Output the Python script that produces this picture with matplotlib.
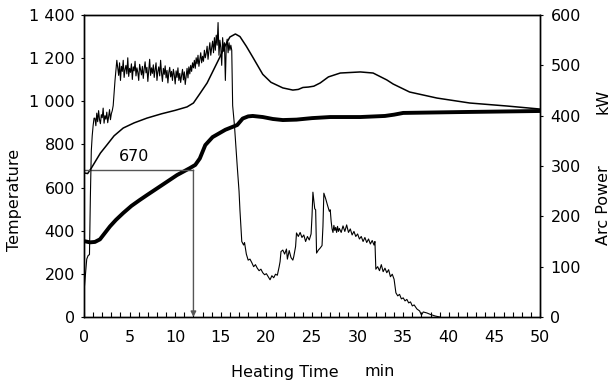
import numpy as np
import matplotlib.pyplot as plt
from matplotlib.ticker import MultipleLocator, FuncFormatter

plt.rcParams['font.family'] = ['DejaVu Sans']
plt.rcParams['font.size'] = 11.5

# thin temperature curve
thin_t = [0, 0.4, 0.8, 1.2, 1.8, 2.5, 3.3, 4.3, 5.5, 6.9, 8.5, 10, 11.3, 12, 12.7,
          13.5, 14.2, 14.9, 15.5, 16, 16.6, 17.1, 17.8, 18.5, 19.6, 20.5, 21.8,
          22.9, 23.5, 24.0, 24.6, 25.2, 25.9, 26.8, 28.1, 30.3, 31.7, 33.2, 33.9,
          35.7, 38.7, 42.3, 46.4, 50]
thin_temp = [668, 665, 690, 718, 760, 797, 840, 876, 900, 922, 942, 958, 974, 992, 1035,
             1085, 1145, 1205, 1260, 1298, 1312, 1300, 1255, 1205, 1125, 1088, 1062,
             1052, 1055, 1064, 1066, 1070, 1085, 1113, 1131, 1136, 1131, 1099, 1080,
             1043, 1015, 992, 978, 964]

# thick temperature curve
thick_t = [0, 0.66, 1.2, 1.75, 2.3, 2.85, 3.5, 4.3, 5.2, 6.1, 6.9, 8.5, 10.2, 11.6,
           12.2, 12.7, 13.3, 14.1, 15.5, 16.8, 17.4, 18.0, 18.5, 19.6, 20.7, 21.8,
           23.3, 25, 27, 30.3, 33.0, 34.0, 35.0, 41.2, 50]
thick_temp = [352, 346, 348, 360, 390, 420, 450, 482, 515, 542, 565, 610, 658, 690,
              705, 735, 797, 834, 868, 890, 920, 930, 932, 927, 918, 913,
              915, 922, 927, 927, 932, 938, 946, 950, 955]

# arc power (kW), start-up
pw_start_t = [0, 0.3, 0.45, 0.6, 0.7, 0.8, 0.9, 1.0, 1.1]
pw_start = [50, 115, 122, 124, 240, 330, 360, 380, 395]

# arc power, noisy section sampled every 0.1 min from 1.2 to 16.1
pw_noisy = [
    395, 380, 405, 388, 410, 392, 384, 402, 396, 415, 385, 400, 393, 407, 386, 398, 412, 392, 404,
    410, 420, 445, 470, 490, 510,
    495, 480, 505, 470, 498, 488, 510, 476, 492, 500,
    483, 515, 478, 494, 486, 503, 472, 497, 489, 508,
    479, 495, 486, 470, 502, 491, 481, 498, 474, 493,
    507, 485, 496, 468, 489, 512, 480, 495, 484, 501,
    476, 492, 505, 470, 488, 497, 479, 510, 485, 468,
    494, 482, 499, 475, 490, 465, 486, 496, 477, 488,
    470, 492, 481, 463, 489, 476, 495, 470, 484, 466,
    480, 492, 471, 487, 462, 478, 494, 475, 497, 483,
    500, 488, 505, 495,
    510, 494, 515, 503, 520, 498, 512, 525, 505, 518,
    508, 530, 515, 524, 538, 512, 530, 545, 520, 535,
    548, 525, 555, 530, 560, 540, 585, 520, 550, 535,
    500, 555, 528, 545, 470, 540, 552, 525, 545, 530,
    540]
pw_noisy_t = np.round(np.arange(len(pw_noisy)) * 0.1 + 1.2, 2)

# arc power, tail after the drop
pw_tail_t = [16.2, 16.3, 16.5, 16.8, 17.0, 17.1, 17.2, 17.3, 17.5, 17.6, 17.8, 18.0, 18.2,
             18.4, 18.6, 18.8, 19.0, 19.2, 19.4, 19.6, 19.8, 20.0, 20.2, 20.4, 20.6, 20.8,
             21.0, 21.2, 21.4, 21.5, 21.6, 21.8, 22.0, 22.2, 22.3, 22.5, 22.7, 22.9, 23.0,
             23.2, 23.3, 23.5, 23.7, 23.9, 24.1, 24.3, 24.5, 24.7, 24.9, 25.0, 25.1, 25.3,
             25.4, 25.5, 25.7, 25.9, 26.1, 26.2, 26.3, 26.5, 26.7, 26.9, 27.0, 27.1, 27.2,
             27.3, 27.4, 27.5, 27.6, 27.7, 27.8, 27.9, 28.0, 28.2, 28.4, 28.6, 28.8, 29.0,
             29.2, 29.4, 29.6, 29.8, 30.0, 30.2, 30.4, 30.6, 30.8, 31.0, 31.2, 31.4, 31.6,
             31.8, 31.9, 32.0, 32.2, 32.4, 32.6, 32.8, 33.0, 33.2, 33.4, 33.6, 33.8, 34.0,
             34.2, 34.4, 34.6, 34.8, 35.0, 35.2, 35.4, 35.6, 35.8, 36.0, 36.2, 36.5, 36.8,
             37.0, 37.2, 37.6, 38.0, 38.5, 39.0]
pw_tail = [530, 420, 380, 300, 250, 212, 180, 150, 143, 148, 125, 113, 115,
           108, 100, 104, 97, 92, 95, 88, 84, 86, 80, 74, 82, 78,
           85, 83, 100, 110, 130, 133, 125, 135, 115, 132, 118, 113, 120,
           140, 167, 160, 168, 158, 163, 150, 160, 153, 165, 200, 248, 215,
           213, 127, 133, 137, 142, 180, 246, 235, 222, 210, 213, 190, 175,
           168, 182, 172, 178, 168, 180, 170, 176, 168, 181, 170, 183, 168,
           175, 163, 170, 160, 165, 155, 160, 150, 158, 148, 155, 145, 152,
           143, 150, 95, 100, 92, 104, 90, 97, 88, 94, 80, 85, 75,
           48, 42, 45, 36, 38, 32, 35, 28, 30, 22, 24, 16, 12,
           4, 10, 8, 5, 2, 0]

power_t = np.concatenate([pw_start_t, pw_noisy_t, pw_tail_t])
power = np.concatenate([pw_start, pw_noisy, pw_tail])

mark_time = 12
mark_temp = 681

fig = plt.figure(figsize=(6.11, 3.83), dpi=100)
ax = fig.add_axes([84 / 611, 1 - 317 / 383, 456 / 611, 302 / 383])
ax2 = ax.twinx()

ax.plot(thin_t, thin_temp, color='black', lw=1.1)
ax.plot(thick_t, thick_temp, color='black', lw=2.8)
ax2.plot(power_t, power, color='black', lw=0.8)

# 670 marker
ax.plot([0, mark_time], [mark_temp, mark_temp], color='#555555', lw=1.0)
ax.annotate('', xy=(mark_time, 0), xytext=(mark_time, mark_temp),
            arrowprops=dict(arrowstyle='-|>', color='#555555', lw=1.0,
                            mutation_scale=8, shrinkA=0, shrinkB=0))
ax.text(5.5, 746, '670', ha='center', va='center')

ax.set_xlim(0, 50)
ax.set_ylim(0, 1400)
ax2.set_ylim(0, 600)

ax.xaxis.set_major_locator(MultipleLocator(5))
ax.xaxis.set_minor_locator(MultipleLocator(1))
ax.yaxis.set_major_locator(MultipleLocator(200))
ax2.yaxis.set_major_locator(MultipleLocator(100))
ax.yaxis.set_major_formatter(FuncFormatter(lambda v, p: f'{int(v):,}'.replace(',', ' ')))

ax.tick_params(axis='x', which='both', direction='in', length=3.5, width=0.8, pad=9)
ax.tick_params(axis='y', direction='out', length=2.5, width=0.8, pad=4)
ax2.tick_params(axis='y', direction='out', length=2.5, width=0.8, pad=5)

for a in (ax, ax2):
    for s in a.spines.values():
        s.set_linewidth(1.0)

fig.text(15 / 611, 1 - 200 / 383, 'Temperature', rotation=90, ha='center', va='center')
fig.text(603 / 611, 1 - 205 / 383, 'Arc Power', rotation=90, ha='center', va='center')
fig.text(603 / 611, 1 - 101 / 383, 'kW', rotation=90, ha='center', va='center')
fig.text(285 / 611, 1 - 372 / 383, 'Heating Time', ha='center', va='center')
fig.text(380 / 611, 1 - 372 / 383, 'min', ha='center', va='center')

fig.savefig('out.png', dpi=100)
